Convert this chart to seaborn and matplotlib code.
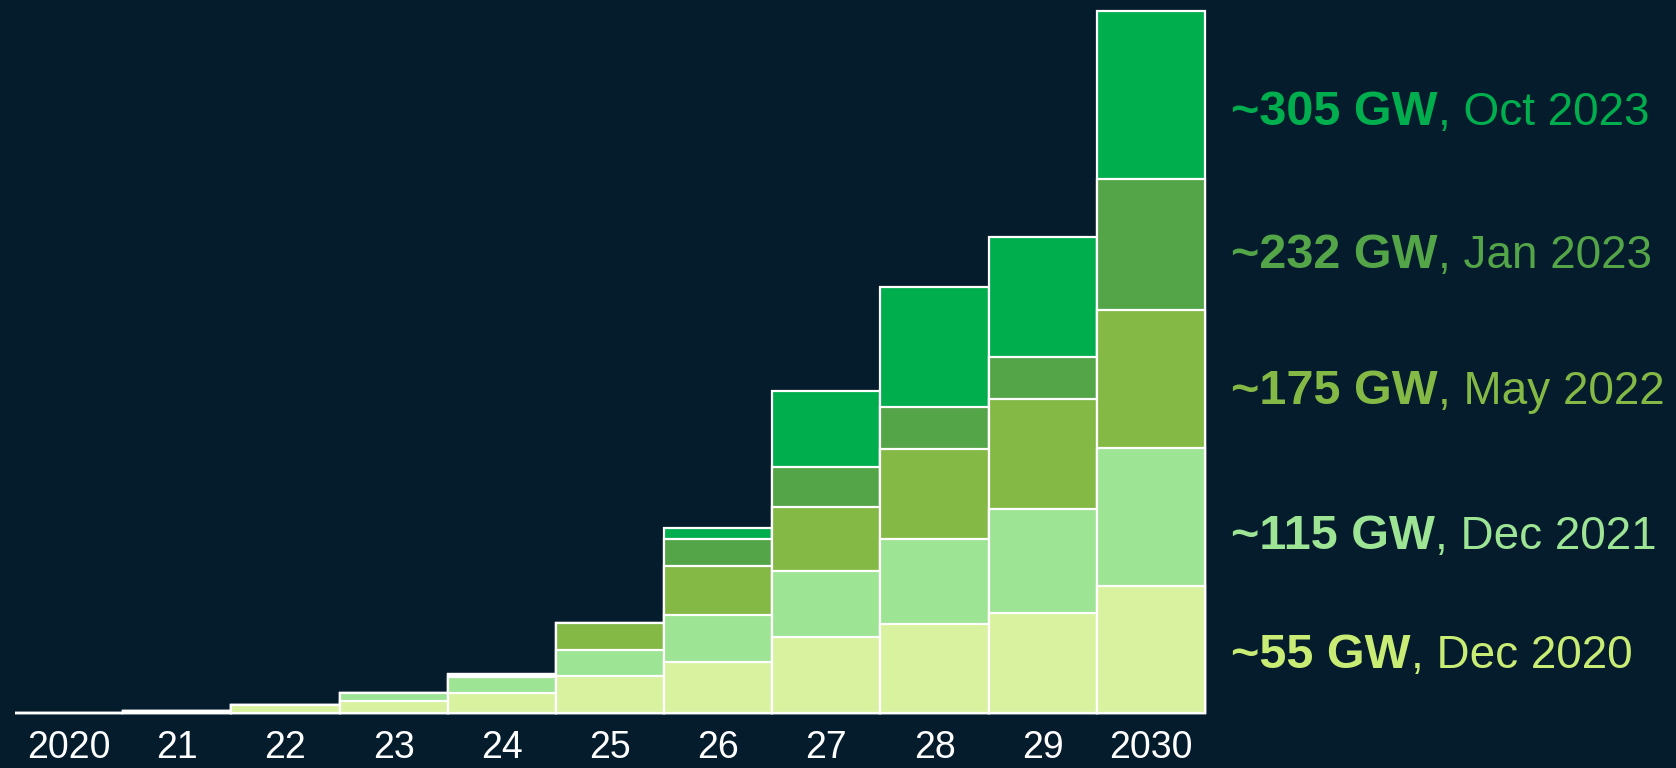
import matplotlib
matplotlib.use("Agg")
import matplotlib.pyplot as plt
import seaborn as sns
import pandas as pd

# Offshore wind pipeline outlook (cumulative GW by year), one series per forecast vintage
years = ["2020", "21", "22", "23", "24", "25", "26", "27", "28", "29", "2030"]
vintages = ["Dec 2020", "Dec 2021", "May 2022", "Jan 2023", "Oct 2023"]
totals_2030 = ["~55 GW", "~115 GW", "~175 GW", "~232 GW", "~305 GW"]

dec_2020 = [0.1, 0.9, 3.3, 5.1, 8.7, 16.2, 22.0, 33.0, 38.7, 43.6, 55]
dec_2021 = [0.1, 0.9, 3.3, 8.5, 15.8, 27.5, 42.6, 61.8, 75.7, 88.5, 115]
may_2022 = [0.1, 0.9, 3.3, 8.7, 16.4, 39.2, 63.9, 89.6, 114.5, 136.4, 175]
jan_2023 = [0.1, 0.9, 3.3, 8.7, 16.9, 39.2, 75.6, 106.7, 132.8, 154.8, 232]
oct_2023 = [0.1, 0.9, 3.3, 8.7, 16.9, 39.2, 80.2, 139.9, 184.9, 206.6, 305]

bar_colors = ["#D9F2A0", "#9DE494", "#84B946", "#54A448", "#00AE4E"]
text_colors = ["#C8EC74", "#9DE494", "#84B946", "#54A448", "#00AE4E"]
bg = "#051C2D"

df = pd.DataFrame({"year": years, "Dec 2020": dec_2020, "Dec 2021": dec_2021,
                   "May 2022": may_2022, "Jan 2023": jan_2023, "Oct 2023": oct_2023})

sns.set_theme(style="dark")
plt.rcParams["font.family"] = ["Liberation Sans", "DejaVu Sans"]

W, H = 1676, 768
fig = plt.figure(figsize=(W / 100, H / 100), dpi=100, facecolor=bg)
ax = fig.add_axes([15 / W, 55 / H, 1190 / W, 702.2 / H])
ax.set_facecolor(bg)

# Cumulative layers: the latest outlook is drawn first, earlier outlooks overlay it
for vintage, color in reversed(list(zip(vintages, bar_colors))):
    sns.barplot(data=df, x="year", y=vintage, order=years, color=color,
                saturation=1, width=1.0, errorbar=None,
                edgecolor="white", linewidth=1.6, ax=ax)

for p in ax.patches:
    p.set_clip_on(False)

ax.set_ylim(0, 305)
ax.set_xlim(-0.5, len(years) - 0.5)
ax.set_xlabel("")
ax.set_ylabel("")
ax.set_yticks([])
ax.tick_params(axis="x", length=0, pad=12, labelsize=27, labelcolor="white")
ax.grid(False)
sns.despine(ax=ax, left=True, bottom=True)

# 2030 totals with forecast dates, to the right of the bars
label_baseline_px = [668, 549, 404, 268, 125]
x_start = 1231 / W
fig.canvas.draw()
renderer = fig.canvas.get_renderer()
for total, vintage, tc, yb in zip(totals_2030, vintages, text_colors, label_baseline_px):
    yf = 1 - yb / H
    t1 = fig.text(x_start, yf, total, fontsize=35, fontweight="bold",
                  color=tc, ha="left", va="baseline")
    bb = t1.get_window_extent(renderer=renderer)
    fig.text(bb.x1 / W, yf, ", " + vintage, fontsize=33, color=tc,
             ha="left", va="baseline")

fig.savefig("out.png", dpi=100, facecolor=bg)
